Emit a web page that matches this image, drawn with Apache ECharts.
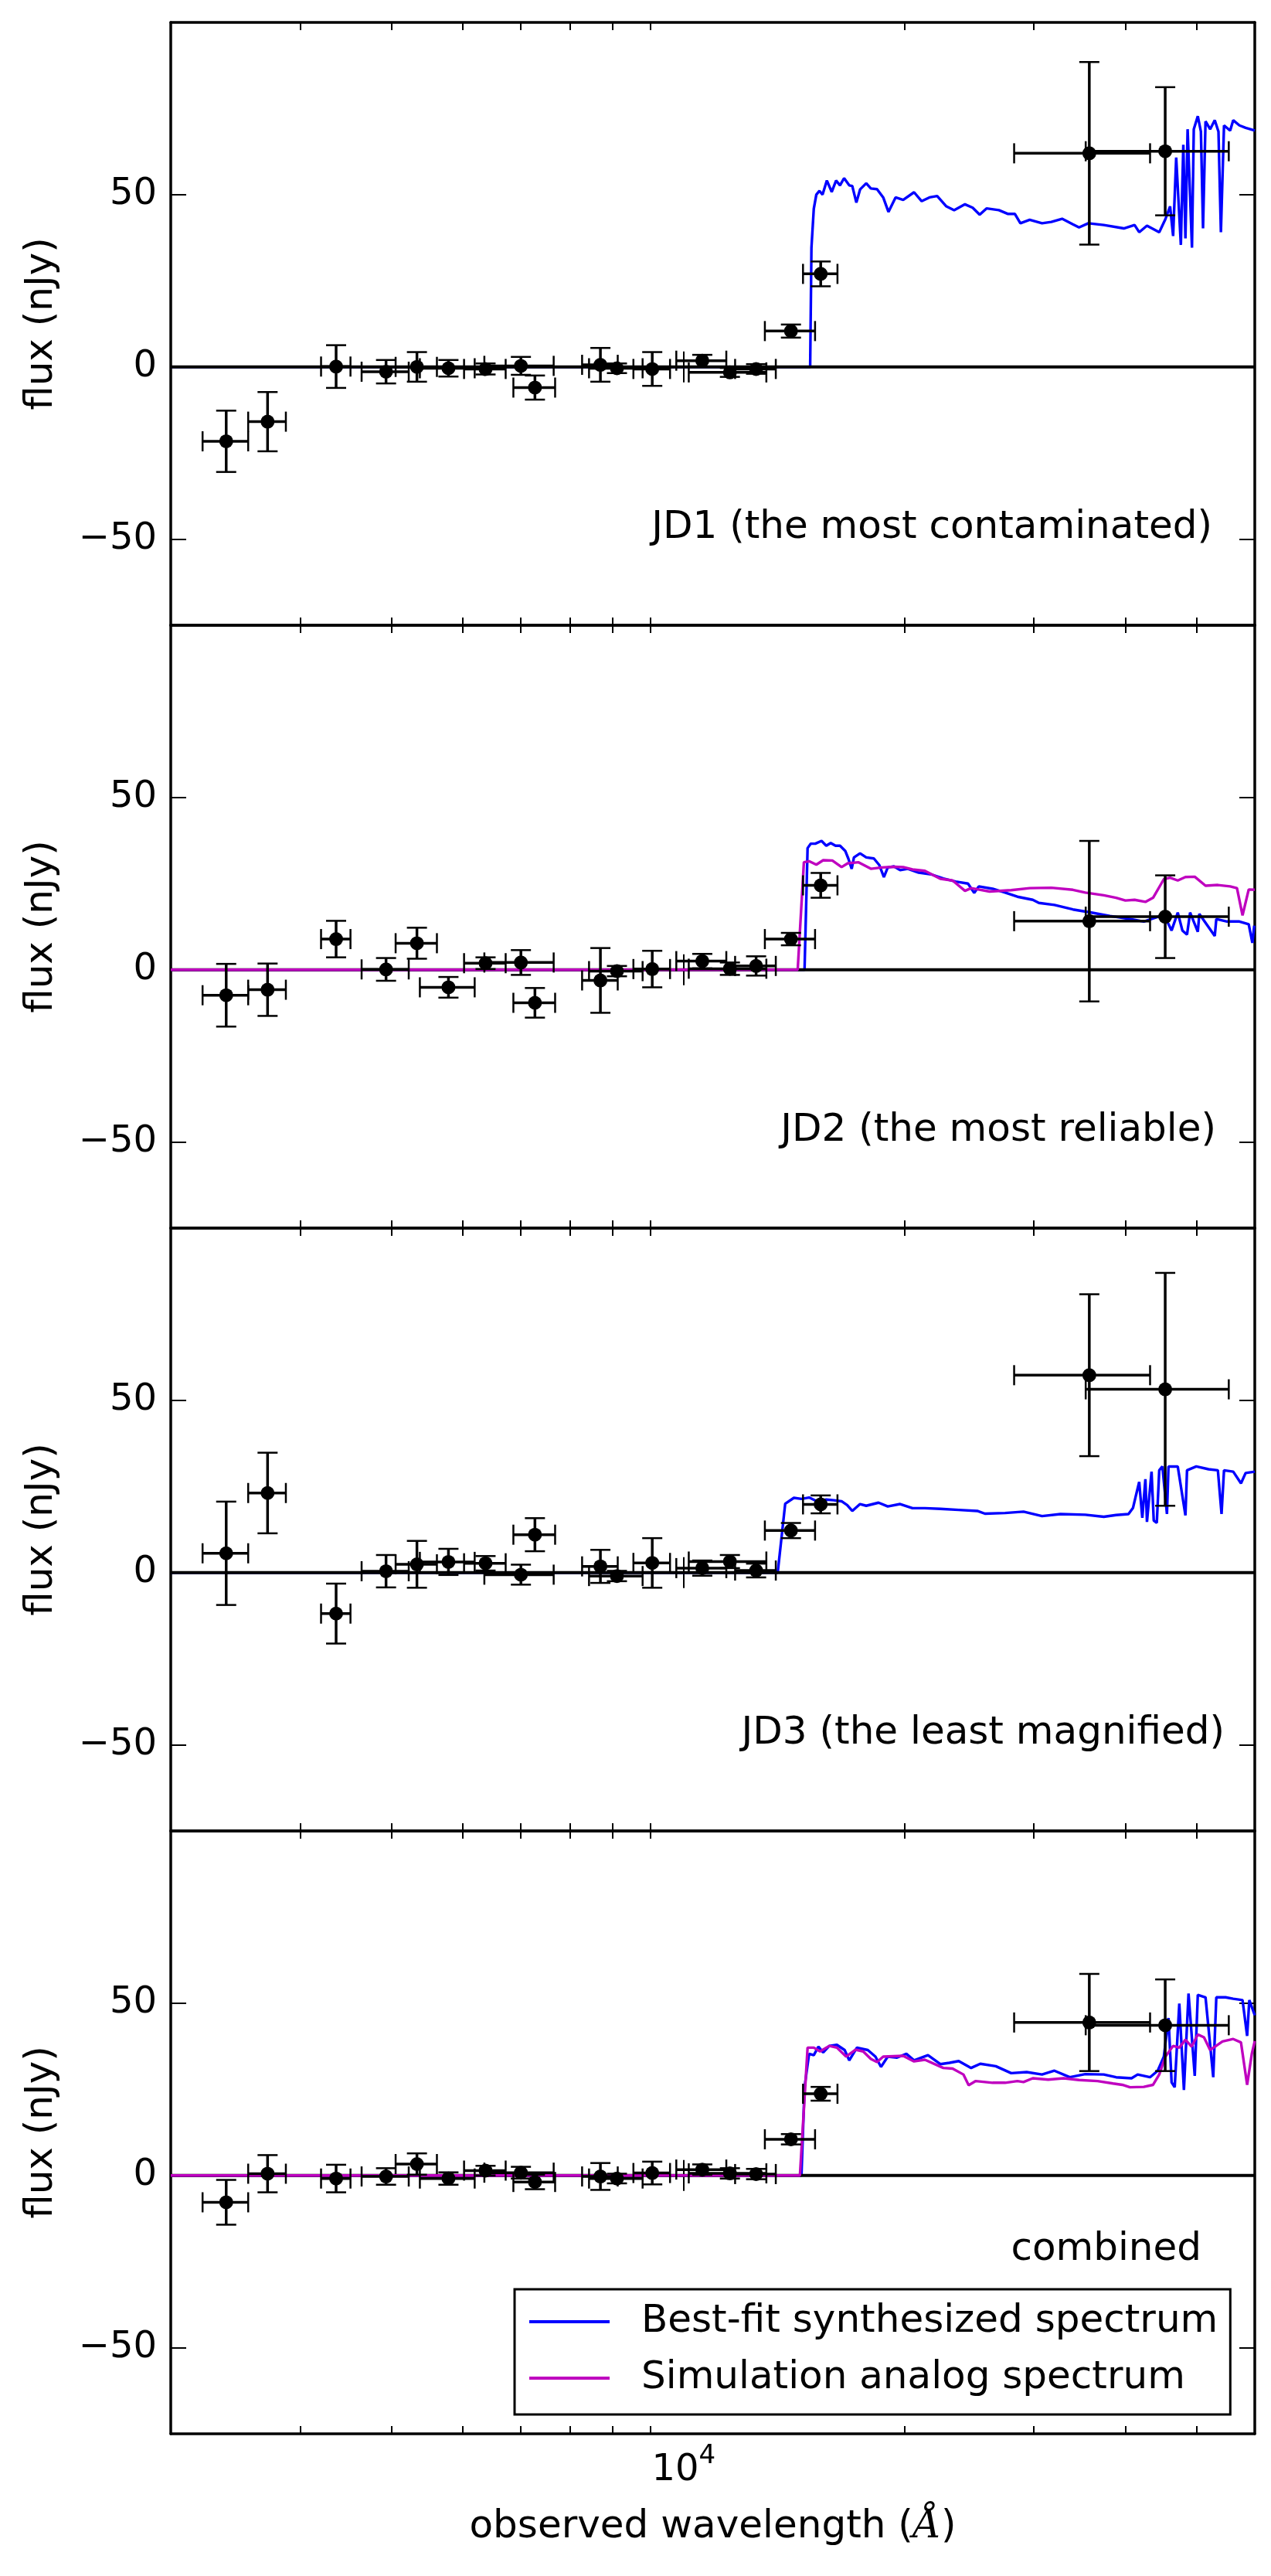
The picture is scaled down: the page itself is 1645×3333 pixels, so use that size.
<!DOCTYPE html>
<html>
<head>
<meta charset="utf-8">
<title>SED fits: JD1, JD2, JD3, combined</title>
<script src="https://cdn.jsdelivr.net/npm/echarts@6/dist/echarts.min.js"></script>
<style>
  html, body { margin: 0; padding: 0; background: #ffffff; }
  #chart { width: 1645px; height: 3333px; }
</style>
</head>
<body>
<div id="chart"></div>
<script>
// photometric bands (HST + IRAC), wavelength in Angstrom
var bands = ['F225W', 'F275W', 'F336W', 'F390W', 'F435W', 'F475W', 'F555W', 'F606W', 'F625W', 'F775W',
    'F814W', 'F850LP', 'F105W', 'F110W', 'F125W', 'F140W', 'F160W', 'IRAC1', 'IRAC2'];
var bandWave = [2380, 2710, 3360, 3930, 4330, 4780, 5370, 6000, 6270, 7700,
    8110, 9060, 10600, 11560, 12550, 14000, 15370, 35700, 45300];
var bandHalfWidth = [170, 160, 155, 290, 280, 410, 350, 650, 410, 430,
    680, 520, 830, 1400, 800, 1100, 830, 7500, 10000];

// measured fluxes (nJy) and 1-sigma errors
var jd1Flux = [-21.6, -15.9, 0.1, -1.4, 0, -0.4, -0.6, 0.3, -6, 0.6, -0.4, -0.6, 1.8, -1.6, -0.6, 10.4, 27, 62, 62.6];
var jd1Err = [8.9, 8.6, 6.2, 3.4, 4.3, 2.4, 1.6, 2.6, 3.5, 4.9, 1.4, 4.9, 1.7, 1.3, 1.4, 1.9, 3.6, 26.5, 18.6];
var jd2Flux = [-7.4, -5.8, 8.9, 0.1, 7.7, -5.1, 1.9, 2.1, -9.6, -3.1, -0.4, 0.2, 2.5, 0.3, 1.1, 8.9, 24.5, 14.1, 15.4];
var jd2Err = [9.1, 7.6, 5.3, 3.3, 4.5, 3, 1.7, 3.6, 4.3, 9.4, 1.5, 5.3, 2.1, 1.8, 2.8, 1.8, 3.6, 23.3, 12];
var jd3Flux = [5.6, 23.1, -11.9, 0.4, 2.4, 3.1, 2.7, -0.6, 11, 1.8, -1, 2.8, 1.3, 3.2, 0.6, 12.2, 19.8, 57.3, 53.2];
var jd3Err = [15, 11.7, 8.7, 4.7, 6.8, 3.8, 2.1, 2.9, 4.8, 4.8, 1.5, 7.2, 2.2, 1.9, 2, 2.2, 2.6, 23.5, 33.8];
var combFlux = [-7.8, 0.5, -0.9, -0.3, 3.3, -0.9, 1.4, 0.8, -1.9, -0.3, -0.9, 0.7, 1.7, 0.6, 0.4, 10.5, 23.7, 44.4, 43.6];
var combErr = [6.5, 5.4, 4, 2.4, 3.1, 1.8, 1.4, 1.7, 2.1, 3.9, 1.4, 3.3, 1.5, 1.5, 1.5, 1.5, 2, 14.1, 13.3];

// best-fit synthesized spectra (wavelength A, flux nJy)
var jd1BestWave = [2000, 14870, 14930, 15040, 15160, 15310, 15460, 15670, 15910, 16130, 16330, 16540, 16810, 16970,
    17190, 17390, 17730, 17990, 18340, 18700, 19010, 19440, 19910, 20600, 21100, 21620, 22150, 22800, 23360, 24170,
    24760, 25310, 25860, 26880, 27670, 28270, 28760, 29610, 30780, 31690, 32780, 33910, 34570, 35590, 37360, 39780,
    41150, 41750, 42780, 44460, 45330, 46000, 46440, 46890, 47580, 47950, 48270, 48600, 49270, 49550, 50180, 50670,
    51010, 51410, 52160, 52920, 53540, 53950, 54480, 55540, 56080, 57180, 58300, 60000];
var jd1BestFlux = [0, 0, 34.6, 45.9, 50, 51.1, 50, 54.1, 50.8, 54.1, 52.7, 54.8, 52.7, 52.5,
    47.7, 51.5, 53.3, 51.8, 51.6, 49.2, 45, 49.2, 48.5, 50.7, 48.1, 49.2, 49.6, 46.6, 45.5, 47.2,
    46.2, 44.2, 46, 45.5, 44.4, 44.4, 41.7, 42.7, 41.7, 42.1, 43, 41.4, 40.5, 41.7, 41.2, 40.2,
    41.2, 39.1, 41, 39.1, 42.9, 46.6, 38, 60.8, 35.4, 64.5, 37.3, 69, 34.6, 69, 72.8, 68.3,
    40.2, 71.3, 69, 71.6, 68.3, 39.1, 70.1, 68.6, 71.6, 70.1, 69.4, 68.6];

var jd2BestWave = [2000, 14610, 14750, 14900, 15110, 15410, 15640, 15860, 16100, 16330, 16600, 16760, 16940, 17060,
    17390, 17730, 18160, 18470, 18740, 18970, 19340, 19720, 20200, 20900, 21730, 22580, 23470, 24400, 24880, 25240,
    26360, 27410, 28490, 29900, 30480, 32000, 33910, 35940, 38090, 40370, 42360, 44460, 45330, 46220, 47120, 47810,
    48510, 48980, 50180, 50420, 52920, 53180, 55010, 57180, 58870, 59550, 59900, 60000];
var jd2BestFlux = [0, 0, 35.3, 36.6, 36.6, 37.4, 36, 36.8, 36, 36, 34.5, 32.3, 29.3, 32.6,
    33.8, 32.6, 32.3, 30.4, 26.9, 29.7, 30, 28.9, 29.3, 28.2, 27.7, 26.5, 25.6, 25, 22.3, 24.2,
    23.5, 22.4, 21.2, 20.3, 19.4, 18.8, 17.5, 16.6, 15.6, 14.8, 14, 15.5, 15.1, 11.4, 16.6, 11.4,
    10.2, 16.6, 11, 16.2, 9.8, 14.7, 14, 14, 13.2, 7.8, 12.8, 12.8];

var jd3BestWave = [2000, 13430, 13750, 14130, 14470, 14820, 15190, 15640, 16020, 16410, 16700, 16970, 17390, 17730,
    18430, 18970, 19720, 20500, 21310, 22370, 23700, 25120, 25730, 27410, 29040, 30780, 32620, 35250, 37360, 38830,
    40370, 40950, 41350, 41750, 42160, 42570, 42780, 43400, 43700, 44120, 44460, 44900, 45550, 45770, 47120, 48270,
    48510, 49940, 51910, 53440, 54060, 54480, 56080, 57460, 58300, 60000];
var jd3BestFlux = [0, 0, 20, 21.7, 21.4, 21.8, 20.7, 21.2, 21, 20.7, 19.6, 17.9, 19.9, 19.4,
    20.3, 19.2, 19.9, 18.7, 18.7, 18.5, 18.2, 17.9, 17.1, 17.3, 17.7, 16.4, 17, 16.8, 16.2, 16.7,
    17, 18.8, 22.6, 26.3, 15.9, 27.1, 14.7, 29.3, 15.1, 14.4, 29.7, 30.8, 17, 30.8, 30.8, 16.6,
    29.7, 30.8, 30, 29.7, 17, 29.7, 29.3, 25.9, 28.9, 29.3];

var combBestWave = [2000, 14470, 14610, 14820, 15040, 15260, 15490, 15790, 16170, 16570, 16810, 17220, 17820, 18250,
    18570, 18970, 19530, 20110, 20600, 21520, 22370, 23020, 23700, 24640, 25360, 26620, 27940, 29330, 30780, 32000,
    33580, 35250, 37360, 38830, 40760, 41550, 43190, 44250, 45110, 45770, 46220, 46670, 47350, 48040, 48740, 49700,
    50180, 51410, 52670, 53180, 54740, 56080, 57740, 58580, 58980, 60000];
var combBestFlux = [0, 0, 25.6, 35.3, 34.9, 37.4, 35.7, 37.6, 37.9, 36.4, 33.4, 37.1, 36.4, 34.5,
    31.5, 34.5, 34.2, 35.3, 33.4, 34.9, 32.3, 32.7, 33.2, 31.2, 32.4, 31.7, 29.7, 30, 29.3, 30.4,
    28.5, 29.4, 29.3, 28.5, 28.2, 29.3, 28.5, 30.4, 34.5, 45.7, 27, 25.6, 49.9, 24.8, 52.8, 28.9,
    52.4, 51.7, 28.5, 51.7, 51.7, 51.3, 50.9, 40.5, 50.9, 46.5];

// simulation analog spectra
var jd2SimWave = [2000, 14300, 14580, 14820, 15160, 15490, 15940, 16410, 16730, 17310, 17990, 18610, 19340, 19910,
    20500, 21310, 22370, 23250, 24170, 24640, 26110, 27940, 29610, 31690, 33910, 35250, 37360, 38830, 39980, 41150,
    42570, 43610, 45110, 46000, 47120, 48270, 49700, 51410, 53440, 55540, 56740, 57740, 58870, 60000];
var jd2SimFlux = [0, 0, 31.2, 31.5, 30.5, 31.8, 31.7, 29.8, 30.9, 31.2, 29.3, 29.7, 29.9, 29.8,
    29.1, 28.7, 26.4, 25.9, 22.9, 23.7, 22.7, 23.1, 23.7, 23.8, 23.2, 22.4, 21.6, 20.9, 20.1, 20.3,
    19.7, 20.9, 26.3, 26.7, 25.9, 26.9, 27, 24.4, 24.6, 24.2, 23.7, 15.8, 23.3, 23.2];

var combSimWave = [2000, 14400, 14750, 15040, 15340, 15790, 16170, 16650, 17140, 17560, 17990, 18340, 18700, 19910,
    20600, 21310, 22580, 23250, 24050, 24450, 25000, 26360, 27410, 28490, 29040, 29900, 31380, 32940, 34570, 36640,
    38460, 39590, 40560, 42360, 43610, 44460, 45330, 46440, 47350, 48270, 49220, 50180, 51160, 52160, 54220, 56080,
    57460, 58580, 59440, 60000];
var combSimFlux = [0, 0, 37.1, 37.1, 36, 37.6, 37.1, 34.5, 36.5, 36, 33.8, 32.9, 34.5, 34.7,
    33.1, 33.6, 31.2, 31, 29.3, 26.2, 27.4, 26.9, 26.9, 27.4, 27.1, 28.2, 27.8, 28.2, 27.7, 27.4,
    26.7, 26.3, 25.6, 25.7, 26.3, 29.3, 34.5, 37.6, 37.1, 39.4, 37.4, 40.9, 40.1, 36.4, 38.9, 39.6,
    38.6, 26.3, 35.3, 39];

var panelLabels = ['JD1 (the most contaminated)', 'JD2 (the most reliable)', 'JD3 (the least magnified)', 'combined'];
var seriesNames = ['Best-fit synthesized spectrum', 'Simulation analog spectrum'];

// axes
var waveRange = [2000, 60000];
var fluxRange = [-75, 100];
var xMajorTicks = [10000];
var xMinorTicks = [3000, 4000, 5000, 6000, 7000, 8000, 9000, 20000, 30000, 40000, 50000];
var yTicks = [-50, 0, 50];

var panels = [
    { label: panelLabels[0], flux: jd1Flux, err: jd1Err, bestWave: jd1BestWave, bestFlux: jd1BestFlux },
    { label: panelLabels[1], flux: jd2Flux, err: jd2Err, bestWave: jd2BestWave, bestFlux: jd2BestFlux, simWave: jd2SimWave, simFlux: jd2SimFlux },
    { label: panelLabels[2], flux: jd3Flux, err: jd3Err, bestWave: jd3BestWave, bestFlux: jd3BestFlux },
    { label: panelLabels[3], flux: combFlux, err: combErr, bestWave: combBestWave, bestFlux: combBestFlux, simWave: combSimWave, simFlux: combSimFlux }
];

var FONT = 'DejaVu Sans';
var BLUE = '#0000ff';
var MAGENTA = '#bf00bf';
var PANEL_TOP = 29, PANEL_H = 780, PLOT_LEFT = 221, PLOT_RIGHT = 21;
var labelPos = [[1569, 683], [1574, 1463], [1585, 2243], [1555, 2911]];

function zip(a, b) {
    var out = [];
    for (var i = 0; i < Math.min(a.length, b.length); i++) out.push([a[i], b[i]]);
    return out;
}

function minusFmt(v) {
    return v < 0 ? '\u2212' + Math.abs(v) : String(v);
}

var frameLine = { show: true, onZero: false, lineStyle: { color: '#000', width: 3.5 } };
var noLine = { show: false };

function xAxisFor(k, position, major, withLabel) {
    var ax = {
        type: 'log', logBase: 10, gridIndex: k, position: position,
        min: waveRange[0], max: waveRange[1],
        axisLine: major ? noLine : frameLine,
        axisTick: {
            show: true, inside: true, length: major ? 20 : 10,
            customValues: major ? xMajorTicks : xMinorTicks,
            lineStyle: { color: '#000', width: 2 }
        },
        axisLabel: { show: false },
        splitLine: { show: false },
        minorTick: { show: false }
    };
    if (withLabel) {
        ax.axisLabel = {
            show: true, customValues: xMajorTicks, margin: 12, color: '#000',
            formatter: function(v) {
                return '{b|10}{s|' + Math.round(Math.log10(v)) + '}';
            },
            rich: {
                b: { fontSize: 48, fontFamily: FONT, color: '#000', lineHeight: 60, verticalAlign: 'bottom' },
                s: { fontSize: 34, fontFamily: FONT, color: '#000', lineHeight: 24, verticalAlign: 'top' }
            }
        };
        ax.name = 'observed wavelength ({i|\u00c5})';
        ax.nameLocation = 'middle';
        ax.nameGap = 96;
        ax.nameTextStyle = {
            fontSize: 50, fontFamily: FONT, color: '#000',
            rich: { i: { fontSize: 50, fontFamily: 'DejaVu Serif', fontStyle: 'italic', color: '#000' } }
        };
    }
    return ax;
}

function yAxisFor(k, position) {
    var left = position === 'left';
    var ax = {
        type: 'value', gridIndex: k, position: position,
        min: fluxRange[0], max: fluxRange[1],
        axisLine: frameLine,
        axisTick: {
            show: true, inside: true, length: 20, customValues: yTicks,
            lineStyle: { color: '#000', width: 2 }
        },
        axisLabel: left ? {
            show: true, customValues: yTicks, margin: 18, color: '#000',
            fontSize: 48, fontFamily: FONT, formatter: minusFmt
        } : { show: false },
        splitLine: { show: false }
    };
    if (left) {
        ax.name = 'flux (nJy)';
        ax.nameLocation = 'middle';
        ax.nameRotate = 90;
        ax.nameGap = 142;
        ax.nameTextStyle = { fontSize: 50, fontFamily: FONT, color: '#000' };
    }
    return ax;
}

function renderErrorBar(params, api) {
    var w = api.value(0), dw = api.value(1), f = api.value(2), df = api.value(3);
    var l = api.coord([w - dw, f]), r = api.coord([w + dw, f]);
    var t = api.coord([w, f + df]), b = api.coord([w, f - df]);
    var cap = 13;
    var bar = { stroke: '#000', lineWidth: 3.5 };
    var capStyle = { stroke: '#000', lineWidth: 2.5 };
    return {
        type: 'group',
        children: [
            { type: 'line', shape: { x1: l[0], y1: l[1], x2: r[0], y2: r[1] }, style: bar },
            { type: 'line', shape: { x1: t[0], y1: t[1], x2: b[0], y2: b[1] }, style: bar },
            { type: 'line', shape: { x1: l[0], y1: l[1] - cap, x2: l[0], y2: l[1] + cap }, style: capStyle },
            { type: 'line', shape: { x1: r[0], y1: r[1] - cap, x2: r[0], y2: r[1] + cap }, style: capStyle },
            { type: 'line', shape: { x1: t[0] - cap, y1: t[1], x2: t[0] + cap, y2: t[1] }, style: capStyle },
            { type: 'line', shape: { x1: b[0] - cap, y1: b[1], x2: b[0] + cap, y2: b[1] }, style: capStyle }
        ]
    };
}

var grids = [], xAxes = [], yAxes = [], series = [], graphics = [];

panels.forEach(function(p, k) {
    grids.push({ left: PLOT_LEFT, right: PLOT_RIGHT, top: PANEL_TOP + PANEL_H * k, height: PANEL_H });
    xAxes.push(xAxisFor(k, 'bottom', false, k === panels.length - 1));
    xAxes.push(xAxisFor(k, 'bottom', true, false));
    xAxes.push(xAxisFor(k, 'top', false, false));
    xAxes.push(xAxisFor(k, 'top', true, false));
    yAxes.push(yAxisFor(k, 'left'));
    yAxes.push(yAxisFor(k, 'right'));

    var xi = 4 * k, yi = 2 * k;

    series.push({
        name: seriesNames[0], type: 'line', xAxisIndex: xi, yAxisIndex: yi,
        data: zip(p.bestWave, p.bestFlux), symbol: 'none', showSymbol: false,
        lineStyle: { color: BLUE, width: 3.4 }, itemStyle: { color: BLUE },
        z: 2, animation: false
    });
    // zero level
    series.push({
        type: 'line', xAxisIndex: xi, yAxisIndex: yi, silent: true,
        data: [[waveRange[0], 0], [waveRange[1], 0]], symbol: 'none',
        lineStyle: { color: '#000', width: 4 }, z: 3, animation: false
    });
    if (p.simWave) {
        series.push({
            name: seriesNames[1], type: 'line', xAxisIndex: xi, yAxisIndex: yi,
            data: zip(p.simWave, p.simFlux), symbol: 'none', showSymbol: false,
            lineStyle: { color: MAGENTA, width: 3.4 }, itemStyle: { color: MAGENTA },
            z: 4, animation: false
        });
    }
    var errData = bandWave.map(function(w, i) { return [w, bandHalfWidth[i], p.flux[i], p.err[i]]; });
    series.push({
        type: 'custom', xAxisIndex: xi, yAxisIndex: yi, silent: true,
        data: errData, encode: { x: 0, y: 2 }, renderItem: renderErrorBar, z: 5, animation: false
    });
    series.push({
        type: 'scatter', xAxisIndex: xi, yAxisIndex: yi, silent: true,
        data: bandWave.map(function(w, i) { return [w, p.flux[i]]; }),
        symbol: 'circle', symbolSize: 18, itemStyle: { color: '#000', opacity: 1 }, z: 6, animation: false
    });

    graphics.push({
        type: 'text', x: labelPos[k][0], y: labelPos[k][1], z: 10,
        style: {
            text: p.label, fontSize: 50, fontFamily: FONT, fill: '#000',
            align: 'right', verticalAlign: 'middle', textAlign: 'right', textVerticalAlign: 'middle'
        }
    });
});

var myChart = echarts.init(document.getElementById('chart'), null, { renderer: 'canvas' });
myChart.setOption({
    backgroundColor: '#ffffff',
    animation: false,
    grid: grids,
    xAxis: xAxes,
    yAxis: yAxes,
    series: series,
    graphic: graphics,
    legend: {
        data: seriesNames,
        orient: 'vertical',
        left: 666, top: 2962,
        padding: [14, 16, 19, 19],
        icon: 'rect',
        itemWidth: 104, itemHeight: 4, itemGap: 17,
        backgroundColor: '#ffffff',
        borderColor: '#000', borderWidth: 3, borderRadius: 0,
        selectedMode: false,
        textStyle: { fontSize: 50, fontFamily: FONT, color: '#000', lineHeight: 56, padding: [0, 0, 0, 36] }
    }
});
</script>
</body>
</html>
